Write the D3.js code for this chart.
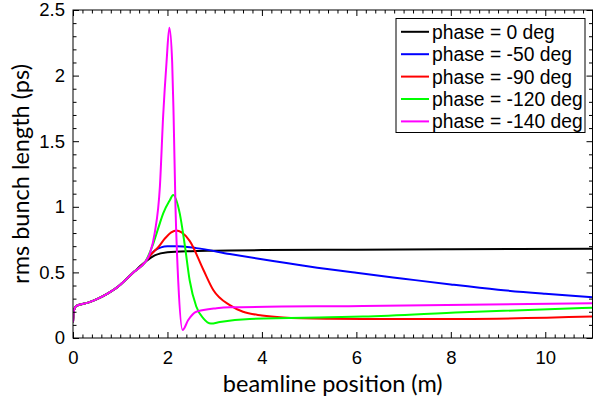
<!DOCTYPE html>
<html>
<head>
<meta charset="utf-8">
<script src="https://cdn.jsdelivr.net/npm/d3@7"></script>
<style>
  html, body { margin: 0; padding: 0; background: #fff; }
  svg { display: block; }
</style>
</head>
<body>
<svg id="chart" width="593" height="407"></svg>
<script>
// Common low-energy section shared by every phase setting (x in m, y in ps)
const baseX = [0, 0.02, 0.07, 0.32, 0.53, 0.74, 0.95, 1.16, 1.30, 1.53];
const baseY = [0.12, 0.21, 0.244, 0.27, 0.30, 0.34, 0.39, 0.46, 0.506, 0.58];

// Downstream part of each run, after the curves split
const phase0X   = [1.73, 2.0, 2.5, 3.0, 4.0, 6.0, 8.0, 11.0];
const phase0Y   = [0.63, 0.654, 0.662, 0.665, 0.67, 0.673, 0.676, 0.68];

const phase50X  = [1.73, 2.0, 2.19, 2.61, 3.32, 4.0, 5.0, 6.0, 7.0, 8.0, 9.0, 10.0, 11.0];
const phase50Y  = [0.667, 0.70, 0.70, 0.685, 0.64, 0.60, 0.545, 0.497, 0.452, 0.408, 0.368, 0.337, 0.31];

const phase90X  = [1.65, 1.8, 1.95, 2.08, 2.19, 2.3, 2.47, 2.76, 2.97, 3.32, 3.6, 4.0, 4.45, 5.43, 6.14, 8.25, 11.0];
const phase90Y  = [0.635, 0.69, 0.76, 0.805, 0.82, 0.805, 0.74, 0.52, 0.366, 0.25, 0.2, 0.172, 0.157, 0.147, 0.145, 0.145, 0.163];

const phase120X = [1.70, 1.84, 1.91, 2.05, 2.12, 2.26, 2.37, 2.47, 2.61, 2.76, 2.92, 3.11, 3.74, 5.43, 6.14, 8.25, 11.0];
const phase120Y = [0.72, 0.876, 0.95, 1.05, 1.09, 0.95, 0.70, 0.44, 0.24, 0.15, 0.11, 0.122, 0.145, 0.158, 0.163, 0.196, 0.231];

const phase140X = [1.63, 1.73, 1.84, 1.91, 1.98, 2.04, 2.10, 2.13, 2.17, 2.23, 2.32, 2.44, 2.61, 3.04, 3.32, 6.14, 11.0];
const phase140Y = [0.647, 0.80, 1.155, 1.70, 2.10, 2.364, 2.10, 1.70, 1.00, 0.42, 0.061, 0.137, 0.20, 0.227, 0.234, 0.244, 0.265];

const seriesNames  = ["phase = 0 deg", "phase = -50 deg", "phase = -90 deg", "phase = -120 deg", "phase = -140 deg"];
const seriesColors = ["#000000", "#0000ff", "#ff0000", "#00ff00", "#ff00ff"];
const seriesX = [phase0X, phase50X, phase90X, phase120X, phase140X];
const seriesY = [phase0Y, phase50Y, phase90Y, phase120Y, phase140Y];

const xTicks = [0, 2, 4, 6, 8, 10];
const yTicks = [0, 0.5, 1, 1.5, 2, 2.5];

const margin = { left: 73, top: 10, right: 592.5, bottom: 338 };
const svg = d3.select("#chart");

const x = d3.scaleLinear().domain([0, 11]).range([margin.left, margin.right]);
const y = d3.scaleLinear().domain([0, 2.5]).range([margin.bottom, margin.top]);

const plotW = margin.right - margin.left;
const plotH = margin.bottom - margin.top;

// clip region for the curves
svg.append("clipPath").attr("id", "plotClip")
  .append("rect").attr("x", margin.left).attr("y", margin.top)
  .attr("width", plotW).attr("height", plotH);

const line = d3.line()
  .x(d => x(d[0])).y(d => y(d[1]))
  .curve(d3.curveMonotoneX);

const curves = svg.append("g").attr("clip-path", "url(#plotClip)");
seriesNames.forEach((name, i) => {
  const pts = baseX.map((v, j) => [v, baseY[j]])
    .concat(seriesX[i].map((v, j) => [v, seriesY[i][j]]));
  curves.append("path")
    .datum(pts)
    .attr("fill", "none")
    .attr("stroke", seriesColors[i])
    .attr("stroke-width", 2)
    .attr("stroke-linejoin", "round")
    .attr("d", line);
});

// Inward ticks on all four sides: major + minor
const xMinor = d3.range(0, 11.001, 0.2).filter(v => !xTicks.some(t => Math.abs(t - v) < 1e-6));
const yMinor = d3.range(0, 2.5001, 0.1).filter(v => !yTicks.some(t => Math.abs(t - v) < 1e-6));

const fmt = d => (d === 0 ? "0" : d3.format("~g")(d));

const axisBottom = d3.axisBottom(x).tickValues(xTicks).tickSizeInner(-6).tickSizeOuter(0).tickPadding(13).tickFormat(fmt);
const axisTop = d3.axisTop(x).tickValues(xTicks).tickSizeInner(-6).tickSizeOuter(0).tickFormat("");
const axisLeft = d3.axisLeft(y).tickValues(yTicks).tickSizeInner(-6).tickSizeOuter(0).tickPadding(8).tickFormat(fmt);
const axisRight = d3.axisRight(y).tickValues(yTicks).tickSizeInner(-6).tickSizeOuter(0).tickFormat("");

function styleAxis(g) {
  g.attr("font-family", null).attr("font-size", null);
  g.select(".domain").remove();
  g.selectAll(".tick line").attr("stroke", "#000").attr("stroke-width", 1);
  g.selectAll("text")
    .attr("fill", "#000")
    .style("font-family", "'Liberation Sans', Arial, sans-serif")
    .style("font-size", "18.5px");
}

svg.append("g").attr("transform", `translate(0,${margin.bottom})`).call(axisBottom).call(styleAxis);
svg.append("g").attr("transform", `translate(0,${margin.top})`).call(axisTop).call(styleAxis);
svg.append("g").attr("transform", `translate(${margin.left},0)`).call(axisLeft).call(styleAxis);
svg.append("g").attr("transform", `translate(${margin.right},0)`).call(axisRight).call(styleAxis);

const minorX = d3.axisBottom(x).tickValues(xMinor).tickSizeInner(-3.5).tickSizeOuter(0).tickFormat("");
const minorXt = d3.axisTop(x).tickValues(xMinor).tickSizeInner(-3.5).tickSizeOuter(0).tickFormat("");
const minorY = d3.axisLeft(y).tickValues(yMinor).tickSizeInner(-3.5).tickSizeOuter(0).tickFormat("");
const minorYr = d3.axisRight(y).tickValues(yMinor).tickSizeInner(-3.5).tickSizeOuter(0).tickFormat("");
svg.append("g").attr("transform", `translate(0,${margin.bottom})`).call(minorX).call(styleAxis);
svg.append("g").attr("transform", `translate(0,${margin.top})`).call(minorXt).call(styleAxis);
svg.append("g").attr("transform", `translate(${margin.left},0)`).call(minorY).call(styleAxis);
svg.append("g").attr("transform", `translate(${margin.right},0)`).call(minorYr).call(styleAxis);

// Plot frame
svg.append("rect")
  .attr("x", margin.left).attr("y", margin.top)
  .attr("width", plotW).attr("height", plotH)
  .attr("fill", "none").attr("stroke", "#000").attr("stroke-width", 1);

// Axis titles
svg.append("text")
  .attr("x", (margin.left + margin.right) / 2).attr("y", 392)
  .attr("text-anchor", "middle")
  .style("font-family", "Lato, 'Open Sans', sans-serif")
  .style("font-size", "23.5px")
  .text("beamline position (m)");

svg.append("text")
  .attr("transform", `translate(29,${(margin.top + margin.bottom) / 2}) rotate(-90)`)
  .attr("text-anchor", "middle")
  .style("font-family", "Lato, 'Open Sans', sans-serif")
  .style("font-size", "23.5px")
  .text("rms bunch length (ps)");

// Legend
const legend = svg.append("g");
legend.append("rect")
  .attr("x", 396).attr("y", 18.5).attr("width", 189).attr("height", 114)
  .attr("fill", "#fff").attr("stroke", "#000").attr("stroke-width", 1);
seriesNames.forEach((name, i) => {
  const cy = 31.8 + i * 22.4;
  legend.append("line")
    .attr("x1", 401).attr("x2", 429).attr("y1", cy).attr("y2", cy)
    .attr("stroke", seriesColors[i]).attr("stroke-width", 2);
  legend.append("text")
    .attr("x", 432).attr("y", cy).attr("dy", "0.36em")
    .style("font-family", "'Liberation Sans', Arial, sans-serif")
    .style("font-size", "19.3px")
    .text(name);
});
</script>
</body>
</html>
